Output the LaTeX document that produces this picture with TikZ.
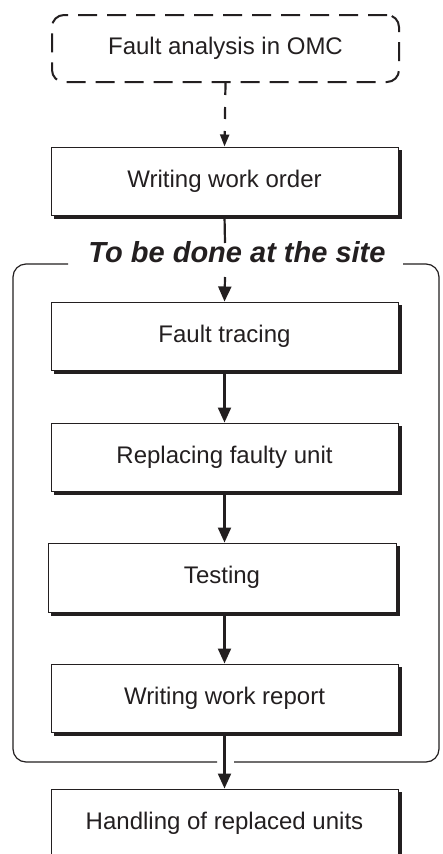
\documentclass[tikz,border=0pt]{standalone}
\usepackage{fontspec}
\setmainfont{Liberation Sans}
\usetikzlibrary{arrows.meta}
\definecolor{ink}{RGB}{35,31,32}
\pgfdeclarelayer{bg}
\pgfsetlayers{bg,main}
\tikzset{
  box/.style={draw=ink, fill=white, line width=1pt, minimum width=347pt,
    minimum height=68pt, inner sep=0pt, text=ink,
    font=\fontsize{24}{28}\selectfont},
  shadowfill/.style={fill=ink},
  dashbox/.style={draw=ink, line width=2pt, dash pattern=on 19pt off 10pt,
    rounded corners=12pt, minimum width=347pt, minimum height=67pt, inner sep=0pt,
    text=ink, font=\fontsize{24}{28}\selectfont},
  arr/.style={draw=ink, line width=2.2pt, -{Triangle[length=15pt,width=13pt]}},
  dasharr/.style={draw=ink, line width=2.2pt, dash pattern=on 12pt off 12pt,
    -{Triangle[length=12pt,width=9pt]}},
  plain/.style={draw=ink, line width=2.2pt},
  frame/.style={draw=ink, line width=1.2pt, rounded corners=13pt},
  sitelabel/.style={text=ink, inner sep=0pt,
    font=\fontsize{29}{33}\selectfont\bfseries\itshape}
}
\newcommand\boxshadow[1]{\fill[shadowfill] ([shift={(3,3)}]#1.north west) rectangle ([shift={(3,3)}]#1.south east);}
\begin{document}
\begin{tikzpicture}[x=1pt,y=-1pt]
\useasboundingbox (0,0) rectangle (443,854);
\clip (0,0) rectangle (443,854);

\node[dashbox] (fa) at (225.5,48.5) {Fault analysis in OMC};
\node[box] (wwo) at (224.5,181) {Writing work order};
\node[sitelabel, anchor=base] (site) at (237,262) {To be done at the site};
\node[box] (ft) at (224.5,336) {Fault tracing};
\node[box] (rfu) at (224.5,457) {Replacing faulty unit};
\node[box, minimum width=348pt, minimum height=69pt] (test) at (222,577.5) {Testing};
\node[box] (wwr) at (224.5,698) {Writing work report};
\node[box] (hand) at (224.5,823) {Handling of replaced units};

\begin{pgfonlayer}{bg}
\fill[white] (0,0) rectangle (443,854);
\boxshadow{wwo}
\boxshadow{ft}
\boxshadow{rfu}
\boxshadow{test}
\boxshadow{wwr}
\boxshadow{hand}
\end{pgfonlayer}

\coordinate (g1) at (225,243);
\coordinate (g2) at (225,277);

% frame with gaps
\draw[frame] (68,264) -- (13,264) -- (13,762) -- (217,762);
\draw[frame] (234,762) -- (439,762) -- (439,264) -- (403,264);

\draw[dasharr] (fa.south) -- (wwo.north);
\draw[plain] (wwo.south) -- (g1);
\draw[arr] (g2) -- (ft.north);
\draw[arr] (ft.south) -- (rfu.north);
\draw[arr] (rfu.south) -- (rfu.south |- test.north);
\draw[arr] (test.south -| wwr.south) -- (wwr.north);
\draw[arr] (wwr.south) -- (hand.north);
\end{tikzpicture}
\end{document}
